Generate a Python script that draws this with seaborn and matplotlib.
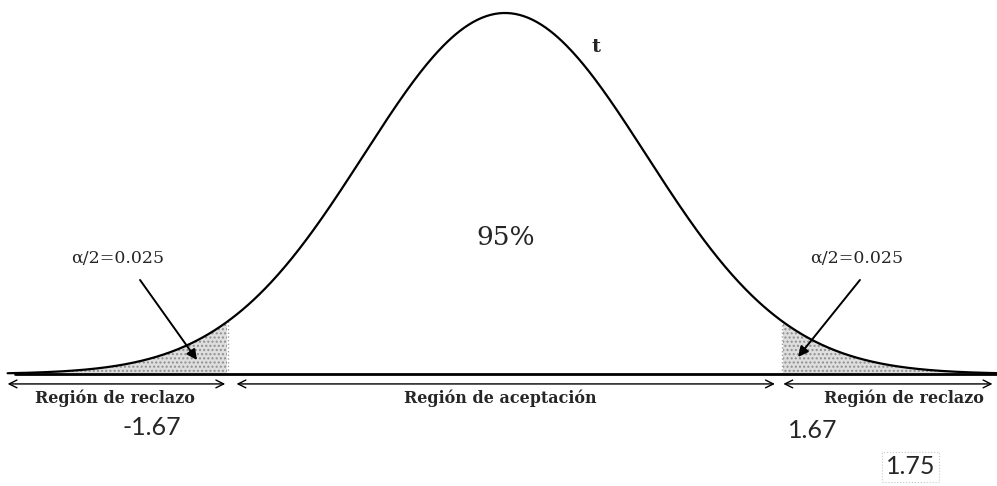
import numpy as np
import pandas as pd
import matplotlib
matplotlib.use("Agg")
import matplotlib.pyplot as plt
import seaborn as sns

# Data: standard curve and the two-tail critical region
mu, sigma = 0.0, 1.0
crit = 1.96                      # where the tails are cut in the drawing
alpha_half = 0.025
conf_label = "95%"
crit_labels = ["-1.67", "1.67"]
extra_label = "1.75"
region_labels = ["Región de reclazo", "Región de aceptación", "Región de reclazo"]

x = np.linspace(-3.52, 3.48, 700)
pdf = np.exp(-0.5 * ((x - mu) / sigma) ** 2) / (sigma * np.sqrt(2 * np.pi))
df = pd.DataFrame({"x": x, "pdf": pdf})

sns.set_style("white")
fig = plt.figure(figsize=(9.97, 4.86), dpi=100)
ax = fig.add_axes([0, 0, 1, 1])

# shaded tails
for side in (-1, 1):
    mask = df["x"] <= -crit if side < 0 else df["x"] >= crit
    ax.fill_between(df["x"][mask], 0, df["pdf"][mask], facecolor="#dedede",
                    edgecolor="#8f8f8f", hatch="....", linewidth=0)
    ax.plot([side * crit] * 2, [0, np.interp(side * crit, x, pdf)],
            color="#a0a0a0", lw=1, ls=":")

sns.lineplot(data=df, x="x", y="pdf", color="black", lw=1.6, ax=ax)
ax.plot([-3.47, 3.6], [0, 0], color="black", lw=2)

# region arrows
arrow_y = -0.011
spans = [(-3.52, -1.98), (-1.90, 1.91), (1.97, 3.45)]
label_x = [-2.76, -0.035, 2.82]
for (a, b), lx, lab in zip(spans, label_x, region_labels):
    ax.annotate("", xy=(b, arrow_y), xytext=(a, arrow_y),
                arrowprops=dict(arrowstyle="<->", color="black", lw=1,
                                mutation_scale=14, shrinkA=0, shrinkB=0))
    ax.text(lx, -0.0265, lab, ha="center", va="center",
            family="DejaVu Serif", fontweight="semibold", fontsize=11.5)

# alpha/2 annotations
for tx, ax_x, tip in [(-2.74, -2.583, (-2.18, 0.0155)),
                      (2.49, 2.512, (2.074, 0.0188))]:
    ax.text(tx, 0.128, f"α/2={alpha_half}", ha="center", va="center",
            family="DejaVu Serif", fontsize=12.5)
    ax.annotate("", xy=tip, xytext=(ax_x, 0.1039),
                arrowprops=dict(arrowstyle="-|>", color="black", lw=1.4,
                                mutation_scale=15, shrinkA=0, shrinkB=0))

ax.text(0.007, 0.151, conf_label, ha="center", va="center",
        family="DejaVu Serif", fontsize=19)
ax.text(0.644, 0.361, "t", ha="center", va="center",
        family="DejaVu Serif", fontweight="bold", fontsize=14)

ax.text(-2.498, -0.0597, crit_labels[0], ha="center", va="center",
        family="Lato", fontsize=18)
ax.text(2.18, -0.063, crit_labels[1], ha="center", va="center",
        family="Lato", fontsize=18)
ax.text(2.873, -0.1028, extra_label, ha="center", va="center",
        family="Lato", fontsize=18,
        bbox=dict(facecolor="none", edgecolor="#c8c8c8", ls=":", lw=0.8,
                  boxstyle="square,pad=0.15"))

ax.set_xlim(-3.574, 3.482)
ax.set_ylim(-0.1238, 0.4133)
ax.axis("off")

plt.savefig("out.png", dpi=100)
